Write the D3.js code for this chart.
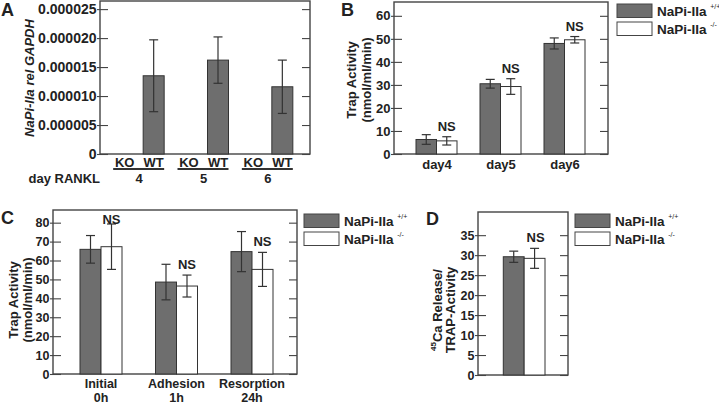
<!DOCTYPE html>
<html><head><meta charset="utf-8">
<script src="https://cdn.jsdelivr.net/npm/d3@7"></script>
<style>
body{margin:0;background:#fff;}
text{font-family:"Liberation Sans",Arial,sans-serif;font-weight:bold;fill:#222;}
</style></head>
<body>
<script>
// ---------- DATA ----------
const daysA = ["4", "5", "6"];
const genoA = ["KO", "WT"];
const wtA = [0.0000135, 0.0000162, 0.0000116];
const wtAErr = [0.0000062, 0.0000040, 0.0000046];
const ticksA = [0, 0.000005, 0.00001, 0.000015, 0.00002, 0.000025];
const tickLabelsA = ["0", "0.000005", "0.000010", "0.000015", "0.000020", "0.000025"];

const daysB = ["day4", "day5", "day6"];
const wtB = [6.3, 30.5, 48.0];
const wtBErr = [2.1, 1.9, 2.4];
const koB = [5.7, 29.3, 49.6];
const koBErr = [1.8, 3.4, 1.4];
const ticksB = [0, 10, 20, 30, 40, 50, 60];

const stagesC = ["Initial", "Adhesion", "Resorption"];
const timesC = ["0h", "1h", "24h"];
const wtC = [65.9, 48.6, 64.7];
const wtCErr = [7.3, 9.4, 10.6];
const koC = [67.3, 46.5, 55.3];
const koCErr = [12.0, 5.8, 9.0];
const ticksC = [0, 10, 20, 30, 40, 50, 60, 70, 80];

const wtD = [29.6];
const wtDErr = [1.4];
const koD = [29.2];
const koDErr = [2.5];
const ticksD = [0, 5, 10, 15, 20, 25, 30, 35];

const legendLabels = ["NaPi-IIa", "NaPi-IIa"];
const legendSup = ["+/+", "-/-"];

// ---------- STYLE ----------
const GRAY = "#6e6e6e", EDGE = "#333", FRAME = "#444";

const svg = d3.select("body").append("svg").attr("width", 719).attr("height", 404);

function frame(x0, x1, y, ticks, labels, fs) {
  const g = svg.append("g");
  const yTop = y.range()[1], yBot = y.range()[0];
  const ax = d3.axisLeft(y).tickValues(ticks).tickSize(3).tickPadding(0.5)
    .tickFormat((d, i) => labels ? labels[i] : d);
  const ga = g.append("g").attr("transform", `translate(${x0},0)`).call(ax);
  ga.select(".domain").remove();
  ga.selectAll(".tick line").attr("x1", -3).attr("x2", 8).attr("stroke", FRAME).attr("stroke-width", 1.1);
  ga.selectAll(".tick text").attr("font-size", fs).attr("fill", "#222")
    .attr("font-family", "Liberation Sans, Arial, sans-serif").attr("font-weight", "bold");
  const ar = d3.axisLeft(y).tickValues(ticks).tickSize(8).tickFormat("");
  const gr = g.append("g").attr("transform", `translate(${x1},0)`).call(ar);
  gr.select(".domain").remove();
  gr.selectAll(".tick line").attr("stroke", FRAME).attr("stroke-width", 1.1);
  g.append("rect").attr("x", x0).attr("y", yTop).attr("width", x1 - x0).attr("height", yBot - yTop)
    .attr("fill", "none").attr("stroke", FRAME).attr("stroke-width", 1.4);
  return g;
}

function bar(x, w, y, v, err, fill) {
  const y0 = y.range()[0];
  svg.append("rect").attr("x", x).attr("y", y(v)).attr("width", w).attr("height", y0 - y(v))
    .attr("fill", fill).attr("stroke", EDGE).attr("stroke-width", 1);
  const cx = x + w / 2;
  svg.append("line").attr("x1", cx).attr("x2", cx).attr("y1", y(v + err)).attr("y2", y(v - err))
    .attr("stroke", EDGE).attr("stroke-width", 1.2);
  [v + err, v - err].forEach(e => svg.append("line").attr("x1", cx - 4.5).attr("x2", cx + 4.5)
    .attr("y1", y(e)).attr("y2", y(e)).attr("stroke", EDGE).attr("stroke-width", 1.2));
}

function ns(cx, yv, yTop) {
  svg.append("text").attr("x", cx).attr("y", Math.max(yv - 10.5, yTop + 9))
    .attr("text-anchor", "middle").attr("dominant-baseline", "central").attr("font-size", 13).text("NS");
}

function ylabel(cx, cy, text, fs, italic) {
  const t = svg.append("text").attr("transform", `translate(${cx},${cy}) rotate(-90)`)
    .attr("text-anchor", "middle").attr("dominant-baseline", "central").attr("font-size", fs).text(text);
  if (italic) t.attr("font-style", "italic");
  return t;
}

function legend(x, y) {
  [GRAY, "#fff"].forEach((c, i) => {
    svg.append("rect").attr("x", x).attr("y", y + i * 18).attr("width", 35).attr("height", 13.5)
      .attr("fill", c).attr("stroke", "#444").attr("stroke-width", 1);
    const t = svg.append("text").attr("x", x + 40).attr("y", y + i * 18 + 7.8)
      .attr("dominant-baseline", "central").attr("font-size", 13.5).text(legendLabels[i] + " ");
    t.append("tspan").attr("font-size", 7).attr("dy", -6).attr("font-weight", "normal").text(legendSup[i]);
  });
}

function letter(x, y, s) {
  svg.append("text").attr("x", x).attr("y", y).attr("font-size", 18).text(s);
}

// ---------- PANEL A ----------
{
  const y = d3.scaleLinear().domain([0, 0.0000264]).range([154, 1]);
  frame(100, 310, y, ticksA, tickLabelsA, 14);
  const xg = d3.scaleBand().domain(daysA).range([107, 300]);
  const xs = d3.scaleBand().domain(genoA).range([-25, 25]).paddingInner(0.276);
  daysA.forEach((d, i) => {
    const c = xg(d) + xg.bandwidth() / 2;
    bar(c + xs("WT"), xs.bandwidth(), y, wtA[i], wtAErr[i], GRAY);
    genoA.forEach(k => svg.append("text").attr("x", c + xs(k) + xs.bandwidth() / 2).attr("y", 166.5)
      .attr("text-anchor", "middle").attr("font-size", 13).text(k));
    svg.append("line").attr("x1", c - 26).attr("x2", c + 25).attr("y1", 169).attr("y2", 169)
      .attr("stroke", "#333").attr("stroke-width", 2.2);
    svg.append("text").attr("x", c).attr("y", 183).attr("text-anchor", "middle").attr("font-size", 13).text(d);
  });
  svg.append("text").attr("x", 100).attr("y", 183).attr("text-anchor", "end").attr("font-size", 13).text("day RANKL");
  ylabel(29, 78, "NaPi-IIa rel GAPDH", 13, true);
  letter(1, 16, "A");
}

// ---------- PANEL B ----------
{
  const y = d3.scaleLinear().domain([0, 66]).range([154, 2]);
  frame(394, 608, y, ticksB, null, 13);
  const xg = d3.scaleBand().domain(daysB).range([405, 597]);
  const xs = d3.scaleBand().domain(["wt", "ko"]).range([-21, 20]);
  const ax = d3.axisBottom(xg).tickSize(0).tickPadding(6);
  const gx = svg.append("g").attr("transform", "translate(0,154)").call(ax);
  gx.select(".domain").remove();
  gx.selectAll("text").attr("font-size", 13).attr("fill", "#222")
    .attr("font-family", "Liberation Sans, Arial, sans-serif").attr("font-weight", "bold");
  daysB.forEach((d, i) => {
    const c = xg(d) + xg.bandwidth() / 2;
    bar(c + xs("wt"), xs.bandwidth(), y, wtB[i], wtBErr[i], GRAY);
    bar(c + xs("ko"), xs.bandwidth(), y, koB[i], koBErr[i], "#fff");
    ns(c + xs("ko") + xs.bandwidth() / 2, y(koB[i] + koBErr[i]), 2);
  });
  ylabel(351.5, 80, "Trap Activity", 13);
  ylabel(366.5, 80, "(nmol/ml/min)", 13);
  letter(341, 16, "B");
  legend(617, 4);
}

// ---------- PANEL C ----------
{
  const y = d3.scaleLinear().domain([0, 86.7]).range([374, 210]);
  frame(53, 297, y, ticksC, null, 12.5);
  const xg = d3.scaleBand().domain(stagesC).range([63.25, 289.75]);
  const xs = d3.scaleBand().domain(["wt", "ko"]).range([-21, 21]);
  stagesC.forEach((d, i) => {
    const c = xg(d) + xg.bandwidth() / 2;
    bar(c + xs("wt"), xs.bandwidth(), y, wtC[i], wtCErr[i], GRAY);
    bar(c + xs("ko"), xs.bandwidth(), y, koC[i], koCErr[i], "#fff");
    ns(c + xs("ko") + xs.bandwidth() / 2, y(koC[i] + koCErr[i]), 210);
    svg.append("text").attr("x", c).attr("y", 388).attr("text-anchor", "middle").attr("font-size", 12.5).text(d);
    svg.append("text").attr("x", c).attr("y", 401.5).attr("text-anchor", "middle").attr("font-size", 12.5).text(timesC[i]);
  });
  ylabel(13.5, 300, "Trap Activity", 13);
  ylabel(27, 300, "(nmol/ml/min)", 13);
  letter(1, 224, "C");
  legend(304, 214);
}

// ---------- PANEL D ----------
{
  const y = d3.scaleLinear().domain([0, 40.8]).range([375, 212]);
  frame(478, 568, y, ticksD, null, 12.5);
  const xs = d3.scaleBand().domain(["wt", "ko"]).range([503.3, 545]);
  bar(xs("wt"), xs.bandwidth(), y, wtD[0], wtDErr[0], GRAY);
  bar(xs("ko"), xs.bandwidth(), y, koD[0], koDErr[0], "#fff");
  ns(xs("ko") + xs.bandwidth() / 2 + 1, y(koD[0] + koDErr[0]), 212);
  const t = svg.append("text").attr("transform", "translate(437,310) rotate(-90)")
    .attr("text-anchor", "middle").attr("dominant-baseline", "central").attr("font-size", 13);
  t.append("tspan").attr("font-size", 8).attr("dy", -4).text("45");
  t.append("tspan").attr("dy", 4).text("Ca Release/");
  ylabel(450.5, 310, "TRAP-Activity", 13);
  letter(426, 225, "D");
  legend(575, 214);
}
</script>
</body></html>
